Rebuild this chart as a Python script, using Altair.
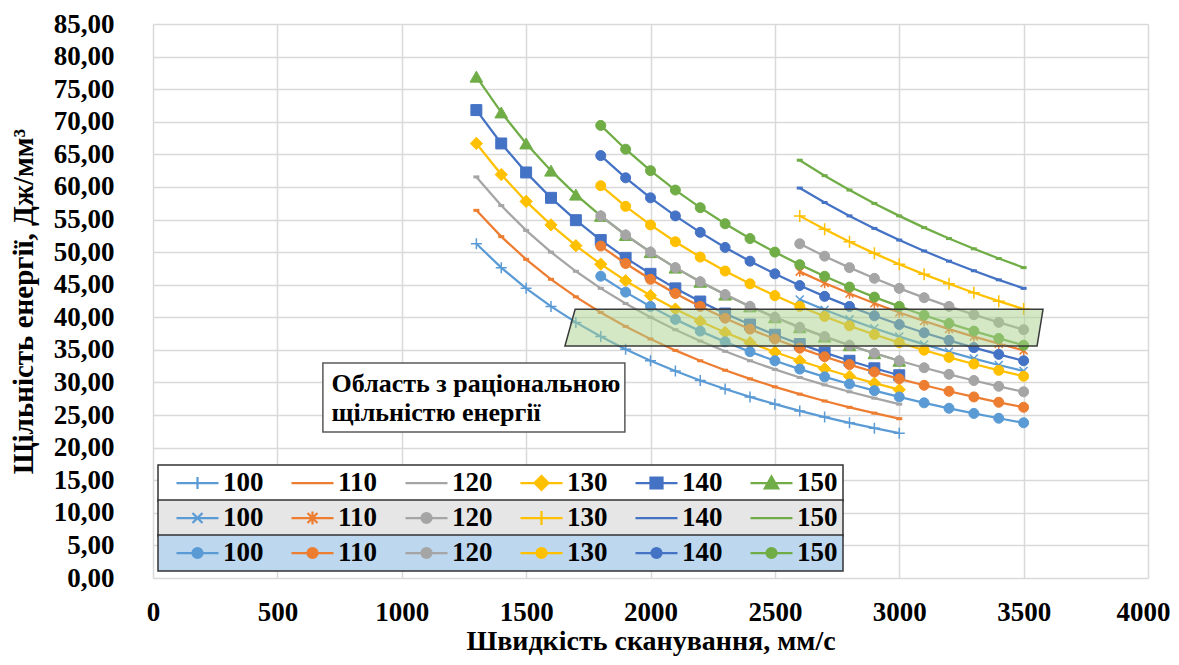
import altair as alt
import pandas as pd

FONT = "Liberation Serif"

# ---------------- data ----------------
speed_a = [1300, 1400, 1500, 1600, 1700, 1800, 1900, 2000, 2100, 2200, 2300, 2400, 2500, 2600, 2700, 2800, 2900, 3000]
speed_b = [2600, 2700, 2800, 2900, 3000, 3100, 3200, 3300, 3400, 3500]
speed_c = [1800, 1900, 2000, 2100, 2200, 2300, 2400, 2500, 2600, 2700, 2800, 2900, 3000, 3100, 3200, 3300, 3400, 3500]

a100 = [51.28, 47.62, 44.44, 41.67, 39.22, 37.04, 35.09, 33.33, 31.75, 30.30, 28.99, 27.78, 26.67, 25.64, 24.69, 23.81, 22.99, 22.22]
a110 = [56.41, 52.38, 48.89, 45.83, 43.14, 40.74, 38.60, 36.67, 34.92, 33.33, 31.88, 30.56, 29.33, 28.21, 27.16, 26.19, 25.29, 24.44]
a120 = [61.54, 57.14, 53.33, 50.00, 47.06, 44.44, 42.11, 40.00, 38.10, 36.36, 34.78, 33.33, 32.00, 30.77, 29.63, 28.57, 27.59, 26.67]
a130 = [66.67, 61.90, 57.78, 54.17, 50.98, 48.15, 45.61, 43.33, 41.27, 39.39, 37.68, 36.11, 34.67, 33.33, 32.10, 30.95, 29.89, 28.89]
a140 = [71.79, 66.67, 62.22, 58.33, 54.90, 51.85, 49.12, 46.67, 44.44, 42.42, 40.58, 38.89, 37.33, 35.90, 34.57, 33.33, 32.18, 31.11]
a150 = [76.92, 71.43, 66.67, 62.50, 58.82, 55.56, 52.63, 50.00, 47.62, 45.45, 43.48, 41.67, 40.00, 38.46, 37.04, 35.71, 34.48, 33.33]

b100 = [42.74, 41.15, 39.68, 38.31, 37.04, 35.84, 34.72, 33.67, 32.68, 31.75]
b110 = [47.01, 45.27, 43.65, 42.15, 40.74, 39.43, 38.19, 37.04, 35.95, 34.92]
b120 = [51.28, 49.38, 47.62, 45.98, 44.44, 43.01, 41.67, 40.40, 39.22, 38.10]
b130 = [55.56, 53.50, 51.59, 49.81, 48.15, 46.59, 45.14, 43.77, 42.48, 41.27]
b140 = [59.83, 57.61, 55.56, 53.64, 51.85, 50.18, 48.61, 47.14, 45.75, 44.44]
b150 = [64.10, 61.73, 59.52, 57.47, 55.56, 53.76, 52.08, 50.51, 49.02, 47.62]

c100 = [46.30, 43.86, 41.67, 39.68, 37.88, 36.23, 34.72, 33.33, 32.05, 30.86, 29.76, 28.74, 27.78, 26.88, 26.04, 25.25, 24.51, 23.81]
c110 = [50.93, 48.25, 45.83, 43.65, 41.67, 39.86, 38.19, 36.67, 35.26, 33.95, 32.74, 31.61, 30.56, 29.57, 28.65, 27.78, 26.96, 26.19]
c120 = [55.56, 52.63, 50.00, 47.62, 45.45, 43.48, 41.67, 40.00, 38.46, 37.04, 35.71, 34.48, 33.33, 32.26, 31.25, 30.30, 29.41, 28.57]
c130 = [60.19, 57.02, 54.17, 51.59, 49.24, 47.10, 45.14, 43.33, 41.67, 40.12, 38.69, 37.36, 36.11, 34.95, 33.85, 32.83, 31.86, 30.95]
c140 = [64.81, 61.40, 58.33, 55.56, 53.03, 50.72, 48.61, 46.67, 44.87, 43.21, 41.67, 40.23, 38.89, 37.63, 36.46, 35.35, 34.31, 33.33]
c150 = [69.44, 65.79, 62.50, 59.52, 56.82, 54.35, 52.08, 50.00, 48.08, 46.30, 44.64, 43.10, 41.67, 40.32, 39.06, 37.88, 36.76, 35.71]

powers = ["100", "110", "120", "130", "140", "150"]
colors = ["#5B9BD5", "#ED7D31", "#A5A5A5", "#FFC000", "#4472C4", "#70AD47"]

x_ticks = [0, 500, 1000, 1500, 2000, 2500, 3000, 3500, 4000]
y_ticks = [0, 5, 10, 15, 20, 25, 30, 35, 40, 45, 50, 55, 60, 65, 70, 75, 80, 85]

# region of rational energy density (parallelogram)
region_energy = [35.60, 41.23]
region_speed_left = [1656, 1697]
region_speed_right = [3554, 3578]

# annotation box
note_speed = [683, 1897]
note_energy = [22.40, 32.99]
note_lines = ["Область з раціональною", "щільністю енергії"]
note_line_energy = [29.84, 25.35]
note_text_speed = [718, 718]

# ---------------- scales / axes ----------------
xs = alt.Scale(domain=[0, 4000], nice=False, zero=False)
ys = alt.Scale(domain=[0, 85], nice=False, zero=False)
xa = alt.Axis(values=x_ticks, title="Швидкість сканування, мм/с", format="d",
              labelPadding=21, titlePadding=2, titleFontSize=28,
              labelFlush=False, labelOverlap=False,
              labelOffset={"condition": {"test": "datum.value >= 4000", "value": -5}, "value": 0})
ya = alt.Axis(values=y_ticks, title="Щільність енергії, Дж/мм³",
              labelExpr="replace(format(datum.value, '.2f'), '.', ',')",
              labelPadding=39, titlePadding=15, labelFlush=False, labelOverlap=False)


def X(field="v"):
    return alt.X(f"{field}:Q", scale=xs, axis=xa)


def Y(field="e"):
    return alt.Y(f"{field}:Q", scale=ys, axis=ya)


PLUS = "M-1,0L1,0M0,-1L0,1"
XMARK = "M-1,-1L1,1M-1,1L1,-1"
STAR = "M-1,-1L1,1M-1,1L1,-1M0,-1.3L0,1.3"
DASH = "M-1,0L1,0"


def series(xv, yv, color, shape=None, size=100, filled=True, sw=1.5):
    df = pd.DataFrame({"v": xv, "e": yv})
    base = alt.Chart(df)
    out = [base.mark_line(color=color, strokeWidth=2.25).encode(x=X(), y=Y())]
    if shape is not None:
        if filled:
            m = base.mark_point(shape=shape, size=size, filled=True, fill=color,
                                stroke=color, strokeWidth=1, opacity=1)
        else:
            m = base.mark_point(shape=shape, size=size, filled=False, stroke=color,
                                strokeWidth=sw, opacity=1)
        out.append(m.encode(x=X(), y=Y()))
    return out


layers = []
# group A
layers += series(speed_a, a100, colors[0], PLUS, 121, False, 1.5)
layers += series(speed_a, a110, colors[1], DASH, 36, False, 3)
layers += series(speed_a, a120, colors[2], DASH, 36, False, 3)
layers += series(speed_a, a130, colors[3], "diamond", 150)
layers += series(speed_a, a140, colors[4], "square", 120)
layers += series(speed_a, a150, colors[5], "triangle-up", 160)
# group B
layers += series(speed_b, b100, colors[0], XMARK, 64, False, 1.5)
layers += series(speed_b, b110, colors[1], STAR, 64, False, 1.5)
layers += series(speed_b, b120, colors[2], "circle", 100)
layers += series(speed_b, b130, colors[3], PLUS, 144, False, 1.5)
layers += series(speed_b, b140, colors[4], DASH, 36, False, 3)
layers += series(speed_b, b150, colors[5], DASH, 36, False, 3)
# group C
for vals, col in zip([c100, c110, c120, c130, c140, c150], colors):
    layers += series(speed_c, vals, col, "circle", 100)

# region
region_df = pd.DataFrame({"e": region_energy, "lo": region_speed_left, "hi": region_speed_right})
layers.append(
    alt.Chart(region_df).mark_area(orient="horizontal", fill="#A9D18E", fillOpacity=0.5,
                                   stroke="#3A3A3A", strokeWidth=1.5)
    .encode(x=X("lo"), x2="hi:Q", y=Y())
)

# annotation
note_df = pd.DataFrame({"x1": [note_speed[0]], "x2": [note_speed[1]],
                        "y1": [note_energy[0]], "y2": [note_energy[1]]})
layers.append(
    alt.Chart(note_df).mark_rect(fill="white", stroke="#595959", strokeWidth=1.5)
    .encode(x=X("x1"), x2="x2:Q", y=Y("y1"), y2="y2:Q")
)
text_df = pd.DataFrame({"v": note_text_speed, "e": note_line_energy, "t": note_lines})
layers.append(
    alt.Chart(text_df).mark_text(align="left", baseline="middle", font=FONT, fontSize=26,
                                 fontWeight="bold", color="black")
    .encode(x=X(), y=Y(), text="t:N")
)

# legends
L = "M-0.556,0L1,0"
CIRC = "M0.407,0A0.185,0.185,0,1,1,0.037,0A0.185,0.185,0,1,1,0.407,0Z"
row1 = [L + "M0.222,-0.222L0.222,0.222", L, L,
        L + "M0.222,-0.26L0.48,0L0.222,0.26L-0.036,0Z",
        L + "M0,-0.2L0.444,-0.2L0.444,0.2L0,0.2Z",
        L + "M0.222,-0.24L0.47,0.2L-0.026,0.2Z"]
row2 = [L + "M0.037,-0.185L0.407,0.185M0.037,0.185L0.407,-0.185",
        L + "M0.037,-0.185L0.407,0.185M0.037,0.185L0.407,-0.185M0.222,-0.24L0.222,0.24",
        L + CIRC,
        L + "M0.222,-0.26L0.222,0.26",
        L + "M0.06,0L0.38,0",
        L + "M0.06,0L0.38,0"]
row3 = [L + CIRC] * 6


def legend_layer(prefix, paths, bg, ly):
    dom = [prefix + p for p in powers]
    df = pd.DataFrame({"v": [0.0] * 6, "e": [0.0] * 6, "lab": dom})
    leg = alt.Legend(title=None, orient="none", legendX=5, legendY=ly, direction="horizontal",
                     columns=6, fillColor=bg, strokeColor="#333333", padding=5,
                     symbolSize=2916, symbolStrokeWidth=2.25, labelOffset=3, columnPadding=14,
                     clipHeight=26, labelFont=FONT, labelFontSize=27, labelFontWeight="bold",
                     labelColor="black", symbolOpacity=1,
                     labelExpr="slice(datum.label, 1)")
    return (alt.Chart(df).transform_filter("false")
            .mark_point(filled=True, opacity=1)
            .encode(x=X(), y=Y(),
                    fill=alt.Fill("lab:N", scale=alt.Scale(domain=dom, range=colors), legend=leg),
                    stroke=alt.Stroke("lab:N", scale=alt.Scale(domain=dom, range=colors), legend=leg),
                    shape=alt.Shape("lab:N", scale=alt.Scale(domain=dom, range=paths), legend=leg)))


layers.append(legend_layer("a", row1, "#FFFFFF", 441))
layers.append(legend_layer("b", row2, "#E7E6E6", 476))
layers.append(legend_layer("c", row3, "#BDD7EE", 511))

chart = (
    alt.layer(*layers)
    .resolve_scale(fill="independent", stroke="independent", shape="independent")
    .properties(width=995, height=554, autosize=alt.AutoSizeParams(type="none"),
                padding={"left": 145, "top": 16, "right": 22, "bottom": 79})
    .configure_view(stroke=None)
    .configure_axis(grid=True, gridColor="#D9D9D9", gridWidth=1.5, domain=False, ticks=False,
                    labelFont=FONT, labelFontSize=27, labelFontWeight="bold", labelColor="black",
                    titleFont=FONT, titleFontSize=29, titleFontWeight="bold", titleColor="black")
    .configure_legend(strokeWidth=1.5)
)

chart.save("out.html", embed_options={"renderer": "svg", "actions": False})
